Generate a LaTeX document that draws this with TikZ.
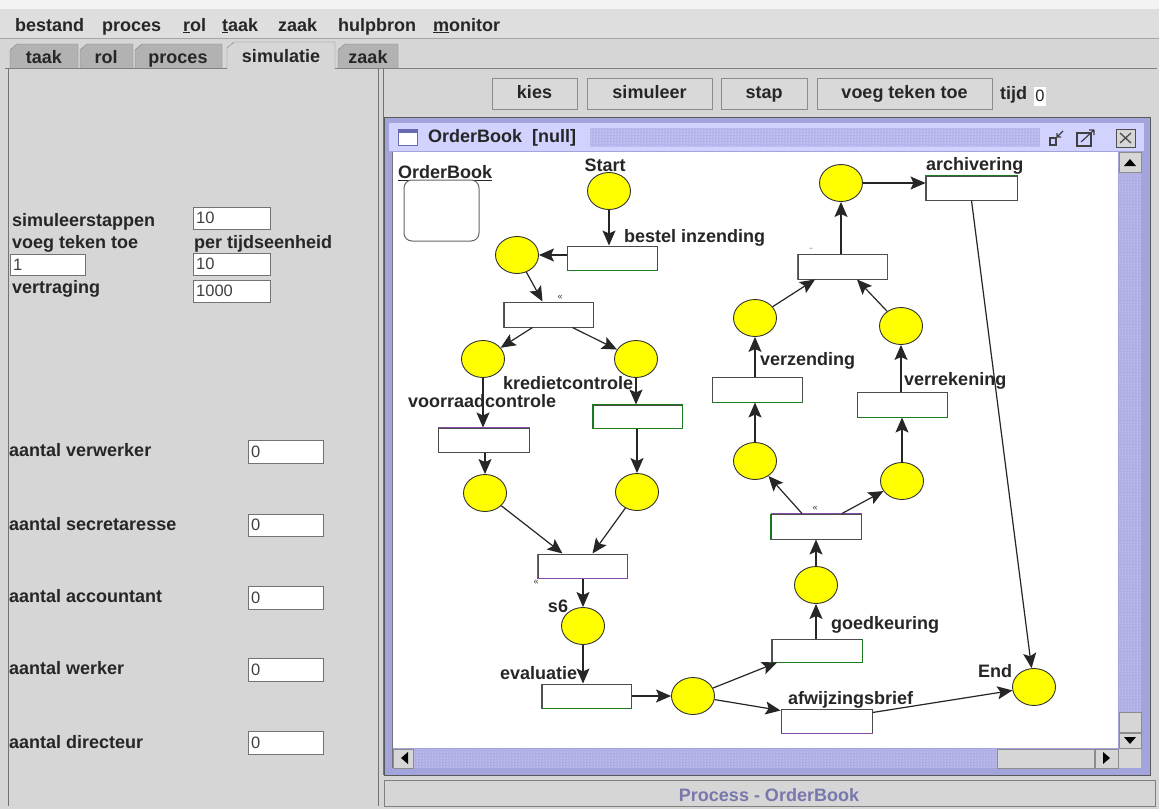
\documentclass[tikz,border=0pt]{standalone}
\usepackage{fontspec}
\setmainfont{Liberation Sans}
\usetikzlibrary{shapes.geometric,arrows.meta,patterns,calc}
\definecolor{bg}{HTML}{D6D6D6}
\definecolor{menubg}{HTML}{DEDEDE}
\definecolor{tabc}{HTML}{B2B2B2}
\definecolor{btn}{HTML}{D9D9D9}
\definecolor{frameb}{HTML}{A4A4DC}
\definecolor{frameD}{HTML}{6A6AB0}
\definecolor{titlec}{HTML}{D2D2FF}
\definecolor{dotc}{HTML}{B4B4EC}
\definecolor{trackc}{HTML}{AEAEE6}
\definecolor{statusc}{HTML}{7878AC}
\definecolor{tgreen}{HTML}{1E7A1E}
\definecolor{tpurple}{HTML}{8A4AA8}
\definecolor{placey}{HTML}{FFFF00}
\newcommand{\gfont}{\fontsize{18}{20}\selectfont\bfseries}
\newcommand{\vfont}{\fontsize{16.5}{18}\selectfont}
\newcommand{\tinyfont}{\fontsize{9}{10}\selectfont}
\begin{document}
\begin{tikzpicture}[x=1pt,y=-1pt,
  every node/.style={inner sep=0pt},
  lbl/.style={font=\gfont, text=black!85},
  place/.style={ellipse, draw=black!80, line width=0.9pt, fill=placey, minimum width=43pt, minimum height=37pt},
  trans/.style={rectangle, draw=black!70, line width=1pt, fill=white, minimum width=90pt, minimum height=24pt},
  arc/.style={-{Stealth[length=15pt,width=13pt,inset=3pt]}, line width=1.2pt, black!85},
  field/.style={rectangle, draw=black!55, fill=white, minimum height=22pt, align=left, inner xsep=3pt, font=\vfont, text=black!75, anchor=north west},
  button/.style={rectangle, draw=black!45, fill=btn, font=\gfont, text=black!85, minimum height=31pt, text height=13pt, text depth=3.5pt},
  tabshape/.style={draw=black!50, fill=tabc},
  tinymark/.style={font=\tinyfont, text=black!80},
  edgeg/.style={tgreen, line width=1.3pt},
  edgep/.style={tpurple, line width=1.3pt},
  sbtn/.style={fill=bg, draw=black!45}
]
\useasboundingbox (0,0) rectangle (1159,809);
% ---------- background ----------
\fill[bg] (0,0) rectangle (1159,809);
\fill[white!70!bg] (0,0) rectangle (1159,9);
\fill[menubg] (0,9) rectangle (1159,38);
\draw[black!35] (0,38) -- (1159,38);
% ---------- menu ----------
\node[lbl, anchor=base west] (mBestand) at (15,31) {bestand};
\node[lbl, anchor=base west] (mProces) at (102,31) {proces};
\node[lbl, anchor=base west] (mRol) at (183,31) {\underline{r}ol};
\node[lbl, anchor=base west] (mTaak) at (222,31) {\underline{t}aak};
\node[lbl, anchor=base west] (mZaak) at (278,31) {zaak};
\node[lbl, anchor=base west] (mHulp) at (338,31) {hulpbron};
\node[lbl, anchor=base west] (mMon) at (433,31) {\underline{m}onitor};
% ---------- tabs ----------
\filldraw[tabshape] (10,68) -- (10,50) -- (17,44) -- (78,44) -- (78,68);
\filldraw[tabshape] (80,68) -- (80,50) -- (87,44) -- (133,44) -- (133,68);
\filldraw[tabshape] (135,68) -- (135,50) -- (142,44) -- (222,44) -- (222,68);
\filldraw[tabshape] (338,68) -- (338,50) -- (345,44) -- (398,44) -- (398,68);
\draw[black!50] (5,68) -- (227,68);
\draw[black!50] (335,68) -- (1157,68);
\filldraw[fill=bg, draw=black!50] (227,69) -- (227,48) -- (234,42) -- (335,42) -- (335,69);
\node[lbl, anchor=base] (tTaak) at (44,63) {taak};
\node[lbl, anchor=base] (tRol) at (106,63) {rol};
\node[lbl, anchor=base] (tProces) at (178,63) {proces};
\node[lbl, anchor=base] (tSim) at (281,62) {simulatie};
\node[lbl, anchor=base] (tZaak) at (368,63) {zaak};
% ---------- left panel ----------
\draw[black!55, line width=1pt] (8,68) -- (8,806);
\draw[black!55, line width=1pt] (378,68) -- (378,806);
\draw[black!55, line width=1pt] (383,68) -- (383,775);
\node[lbl, anchor=west] (lSim) at (12,222) {simuleerstappen};
\node[field, text width=71pt] (fSim) at (193,207) {10};
\node[lbl, anchor=west] (lVoeg) at (12,244) {voeg teken toe};
\node[lbl, anchor=west] (lPer) at (194,244) {per tijdseenheid};
\node[field, text width=69pt, minimum height=21pt] (fVoeg) at (10,254) {1};
\node[field, text width=71pt] (fPer) at (193,253) {10};
\node[lbl, anchor=west] (lVert) at (12,289) {vertraging};
\node[field, text width=71pt] (fVert) at (193,280) {1000};
\node[lbl, anchor=west] (lA1) at (9,450) {aantal verwerker};
\node[field, text width=69pt, minimum height=23pt] (fA1) at (248,440) {0};
\node[lbl, anchor=west] (lA2) at (9,524) {aantal secretaresse};
\node[field, text width=69pt] (fA2) at (248,514) {0};
\node[lbl, anchor=west] (lA3) at (9,596) {aantal accountant};
\node[field, text width=69pt, minimum height=23pt] (fA3) at (248,586) {0};
\node[lbl, anchor=west] (lA4) at (9,668) {aantal werker};
\node[field, text width=69pt, minimum height=23pt] (fA4) at (248,658) {0};
\node[lbl, anchor=west] (lA5) at (9,742) {aantal directeur};
\node[field, text width=69pt, minimum height=23pt] (fA5) at (248,731) {0};
% ---------- buttons ----------
\node[button, minimum width=85pt] (bKies) at (534.5,93.5) {kies};
\node[button, minimum width=125pt] (bSim) at (649.5,93.5) {simuleer};
\node[button, minimum width=86pt] (bStap) at (764,93.5) {stap};
\node[button, minimum width=175pt] (bVoeg) at (904.5,93.5) {voeg teken toe};
\node[lbl, anchor=west] (lTijd) at (1000,95) {tijd};
\node[rectangle, fill=white, minimum width=12pt, minimum height=19pt, font=\vfont, text=black!85] (fTijd) at (1040,96) {0};
% ---------- internal frame ----------
\filldraw[fill=frameb, draw=black!65, line width=1pt] (384,117) rectangle (1150,775);
\fill[titlec] (389,123) rectangle (1144,151);
\fill[dotc] (590,128) rectangle (1040,147);
\fill[pattern=dots, pattern color=white] (590,128) rectangle (1040,147);
\filldraw[fill=white, draw=frameD, line width=1pt] (398,129) rectangle (417,145);
\fill[frameD] (398,129) rectangle (417,133);
\node[lbl, anchor=west] (title) at (428,138) {OrderBook~~[null]};
% title icons
\draw[black!75, line width=1.2pt] (1050,138) rectangle (1056,145);
\draw[black!75, line width=1.2pt] (1057,137) -- (1063,131) (1057,137) -- (1057,133) (1057,137) -- (1061,137);
\draw[black!75, line width=1.2pt] (1077,133) rectangle (1091,146);
\draw[black!75, line width=1.2pt] (1081,142) -- (1094,130) (1094,130) -- (1089,130) (1094,130) -- (1094,135);
\filldraw[fill=bg, draw=black!70, line width=1pt] (1116,129) rectangle (1135,147);
\draw[black!70, line width=1.3pt] (1120,133) -- (1131,143) (1120,143) -- (1131,133);
% canvas
\fill[white] (393,152) rectangle (1118,748);
\draw[black!55] (392,152) -- (392,768);
% vertical scrollbar
\fill[trackc] (1119,152) rectangle (1141,748);
\fill[pattern=dots, pattern color=white!80!trackc] (1119,172) rectangle (1141,712);
\filldraw[sbtn] (1119,152) rectangle (1141,172);
\fill[black] (1124,166) -- (1136,166) -- (1130,159) -- cycle;
\filldraw[sbtn] (1119,712) rectangle (1141,732);
\filldraw[sbtn] (1119,733) rectangle (1141,748);
\fill[black] (1124,737) -- (1136,737) -- (1130,744) -- cycle;
% horizontal scrollbar
\fill[trackc] (393,749) rectangle (1118,768);
\fill[pattern=dots, pattern color=white!80!trackc] (413,749) rectangle (997,768);
\filldraw[sbtn] (393,749) rectangle (413,768);
\fill[black] (408,752) -- (408,764) -- (401,758) -- cycle;
\filldraw[sbtn] (997,749) rectangle (1094,768);
\filldraw[sbtn] (1095,749) rectangle (1118,768);
\fill[black] (1103,752) -- (1103,764) -- (1110,758) -- cycle;
\fill[bg] (1119,749) rectangle (1141,768);
% status bar
\filldraw[fill=bg, draw=black!50] (384,780) rectangle (1155,806);
\node[lbl, text=statusc] (status) at (769,795) {Process - OrderBook};
% ---------- Petri net ----------
\node[lbl, anchor=west] (obl) at (398,173) {\underline{OrderBook}};
\draw[black!60, fill=white, line width=1pt, rounded corners=8pt] (404,180) rectangle (479,241);
% places
\node[place] (Start) at (609,191) {};
\node[place] (p1) at (517,255) {};
\node[place] (p2) at (483,359) {};
\node[place] (p3) at (636,359) {};
\node[place] (p4) at (485,493) {};
\node[place] (p5) at (637,492) {};
\node[place] (s6) at (583,626) {};
\node[place] (p7) at (693,696) {};
\node[place] (End) at (1034,687) {};
\node[place] (p8) at (816,585) {};
\node[place] (p9) at (755,461) {};
\node[place] (p10) at (902,481) {};
\node[place] (p11) at (755,318) {};
\node[place] (p12) at (901,326) {};
\node[place] (p13) at (841,183) {};
% transitions
\node[trans] (bestel) at (612,258) {};
\node[trans, minimum width=89pt, minimum height=25pt] (t2) at (548.5,314.5) {};
\node[trans, minimum width=91pt] (voorraad) at (483.5,440) {};
\node[trans, minimum width=89pt, minimum height=23pt] (krediet) at (637.5,416.5) {};
\node[trans, minimum width=89pt] (join) at (582.5,566) {};
\node[trans, minimum width=89pt] (eval) at (586.5,696) {};
\node[trans, minimum height=23pt] (goed) at (817,650.5) {};
\node[trans, minimum width=91pt] (afw) at (826.5,721) {};
\node[trans, minimum height=25pt] (split2) at (816,526.5) {};
\node[trans, minimum height=25pt] (verz) at (757,389.5) {};
\node[trans, minimum height=25pt] (verr) at (902,404.5) {};
\node[trans, minimum width=89pt, minimum height=25pt] (join2) at (842.5,266.5) {};
\node[trans, minimum width=91pt] (arch) at (971.5,188) {};
% coloured edges
\draw[edgeg] (bestel.south west) -- (bestel.south east);
\draw[edgeg] (t2.south west) -- (t2.north west);
\draw[edgep] (voorraad.north west) -- (voorraad.north east);
\draw[edgeg] (krediet.south west) rectangle (krediet.north east);
\draw[edgeg] (join.south east) -- (join.north east);
\draw[edgep] (join.south west) -- (join.south east);
\draw[edgep] (join.north west) -- (join.south west);
\draw[edgeg] (eval.north west) -- (eval.south west) -- (eval.south east);
\draw[edgeg] (goed.north west) -- (goed.south west);
\draw[edgeg] (goed.south west) -- (goed.south east) -- (goed.north east);
\draw[edgep] (afw.south west) -- (afw.south east);
\draw[edgeg] (split2.north west) -- (split2.south west);
\draw[edgep] (split2.north west) -- (split2.north east);
\draw[edgeg] (verz.south west) -- (verz.south east);
\draw[edgeg] (verr.south west) -- (verr.south east);
\draw[edgep] (join2.north west) -- (join2.south west);
\draw[edgeg] (join2.north east) -- (join2.south east);
\draw[edgeg] (arch.south west) -- (arch.north west) -- (arch.north east);
% small marks
\node[tinymark] (m1) at (560,297) {«};
\node[tinymark] (m2) at (536,582) {«};
\node[tinymark] (m3) at (815,508) {«};
\node[tinymark] (m4) at (811,251) {¨};
% arcs
\draw[arc] (Start) -- (Start |- bestel.north);
\draw[arc] (bestel.west |- p1) -- (p1);
\draw[arc] (p1) -- ([xshift=-6pt]t2.north);
\draw[arc] ([xshift=-16pt]t2.south) -- (p2);
\draw[arc] ([xshift=24pt]t2.south) -- (p3);
\draw[arc] (p2) -- (p2 |- voorraad.north);
\draw[arc] (p3) -- (p3 |- krediet.north);
\draw[arc] (p4 |- voorraad.south) -- (p4);
\draw[arc] (p5 |- krediet.south) -- (p5);
\draw[arc] (p4) -- ([xshift=-20pt]join.north);
\draw[arc] (p5) -- ([xshift=10pt]join.north);
\draw[arc] (s6 |- join.south) -- (s6);
\draw[arc] (s6) -- (s6 |- eval.north);
\draw[arc] (eval.east |- p7) -- (p7);
\draw[arc] (p7) -- ([xshift=-40pt]goed.south);
\draw[arc] (p7) -- ([yshift=-2pt]afw.north west);
\draw[arc] (p8 |- goed.north) -- (p8);
\draw[arc] (p8) -- (p8 |- split2.south);
\draw[arc] ([xshift=-14pt]split2.north) -- (p9);
\draw[arc] ([xshift=26pt]split2.north) -- (p10);
\draw[arc] (p9) -- (p9 |- verz.south);
\draw[arc] (p11 |- verz.north) -- (p11);
\draw[arc] (p10) -- (p10 |- verr.south);
\draw[arc] (p12 |- verr.north) -- (p12);
\draw[arc] (p11) -- ([xshift=-27.5pt]join2.south);
\draw[arc] (p12) -- ([xshift=14.5pt]join2.south);
\draw[arc] (p13 |- join2.north) -- (p13);
\draw[arc] (p13) -- (arch.west |- p13);
\draw[arc] (arch.south) -- (End);
\draw[arc] ([yshift=-4pt]afw.north east) -- (End);
% labels
\node[lbl] (lStart) at (605,165) {Start};
\node[lbl, anchor=west] (lBestel) at (624,238) {bestel inzending};
\node[lbl, anchor=west] (lKred) at (503,383) {kredietcontrole};
\node[lbl, anchor=west] (lVoor) at (408,401) {voorraadcontrole};
\node[lbl] (ls6) at (558,606) {s6};
\node[lbl, anchor=west] (lEval) at (500,673) {evaluatie};
\node[lbl, anchor=west] (lGoed) at (831,625) {goedkeuring};
\node[lbl, anchor=west] (lAfw) at (788,700) {afwijzingsbrief};
\node[lbl, anchor=west] (lEnd) at (978,671) {End};
\node[lbl, anchor=west] (lVerz) at (760,361) {verzending};
\node[lbl, anchor=west] (lVerr) at (904,381) {verrekening};
\node[lbl, anchor=west] (lArch) at (926,166) {archivering};
\end{tikzpicture}
\end{document}
